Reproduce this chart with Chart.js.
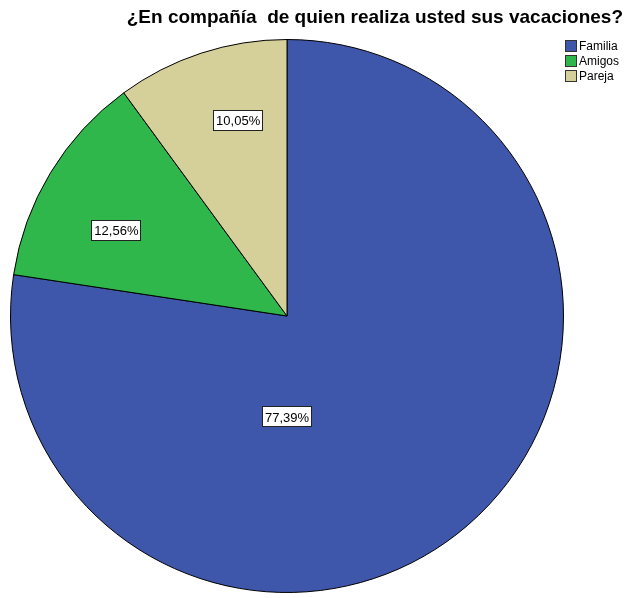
<!DOCTYPE html>
<html>
<head>
<meta charset="utf-8">
<script src="https://cdn.jsdelivr.net/npm/chart.js@4/dist/chart.umd.min.js"></script>
<style>
html,body{margin:0;padding:0;background:#fff;}
canvas{display:block;}
</style>
</head>
<body>
<canvas id="c" width="627" height="598"></canvas>
<script>
const categories = ["Familia", "Amigos", "Pareja"];
const percentages = [77.39, 12.56, 10.05];
const percentLabels = ["77,39%", "12,56%", "10,05%"];
const sliceColors = ["#3f57aa", "#2fb74b", "#d5cf9a"];
const titleText = "¿En compañía  de quien realiza usted sus vacaciones?";

// label placement: angle (deg clockwise from top) and radius fraction
const labelPlacement = [
  {angle: 180, frac: 0.365},
  {angle: 296.6, frac: 0.69},
  {angle: 346.0, frac: 0.73}
];

const overlay = {
  id: 'overlay',
  afterDraw(chart) {
    const ctx = chart.ctx;
    const meta = chart.getDatasetMeta(0);
    // title
    ctx.save();
    ctx.font = "bold 19px 'Liberation Sans', Arial, sans-serif";
    ctx.fillStyle = "#000";
    ctx.textAlign = "right";
    ctx.textBaseline = "alphabetic";
    ctx.fillText(titleText, 623, 23);
    ctx.restore();

    // legend
    ctx.save();
    ctx.font = "12px 'Liberation Sans', Arial, sans-serif";
    ctx.textBaseline = "middle";
    ctx.textAlign = "left";
    chart.data.labels.forEach((lab, i) => {
      const y = 46 + i * 15;
      ctx.fillStyle = chart.data.datasets[0].backgroundColor[i];
      ctx.fillRect(565, y - 6, 12, 12);
      ctx.strokeStyle = "#333";
      ctx.lineWidth = 1;
      ctx.strokeRect(565.5, y - 5.5, 11, 11);
      ctx.fillStyle = "#000";
      ctx.fillText(lab, 579, y + 0.5);
    });
    ctx.restore();

    // value labels
    ctx.save();
    ctx.font = "13px 'Liberation Sans', Arial, sans-serif";
    ctx.textAlign = "center";
    ctx.textBaseline = "middle";
    meta.data.forEach((arc, i) => {
      const p = labelPlacement[i];
      const a = (p.angle - 90) * Math.PI / 180;
      const x = arc.x + Math.cos(a) * arc.outerRadius * p.frac;
      const y = arc.y + Math.sin(a) * arc.outerRadius * p.frac;
      const txt = percentLabels[i];
      const w = ctx.measureText(txt).width + 6;
      const h = 21;
      ctx.fillStyle = "#fff";
      ctx.fillRect(Math.round(x - w / 2), Math.round(y - h / 2), Math.round(w), h);
      ctx.strokeStyle = "#222";
      ctx.lineWidth = 1;
      ctx.strokeRect(Math.round(x - w / 2) + 0.5, Math.round(y - h / 2) + 0.5, Math.round(w) - 1, h - 1);
      ctx.fillStyle = "#000";
      ctx.fillText(txt, x, y + 1);
    });
    ctx.restore();
  }
};

new Chart(document.getElementById('c'), {
  type: 'pie',
  data: {
    labels: categories,
    datasets: [{
      data: percentages,
      backgroundColor: sliceColors,
      borderColor: "#000",
      borderWidth: 1
    }]
  },
  options: {
    responsive: false,
    animation: false,
    layout: { padding: { left: 10, right: 63, top: 39, bottom: 5 } },
    plugins: {
      legend: { display: false },
      title: { display: false },
      tooltip: { enabled: false }
    }
  },
  plugins: [overlay]
});
</script>
</body>
</html>
